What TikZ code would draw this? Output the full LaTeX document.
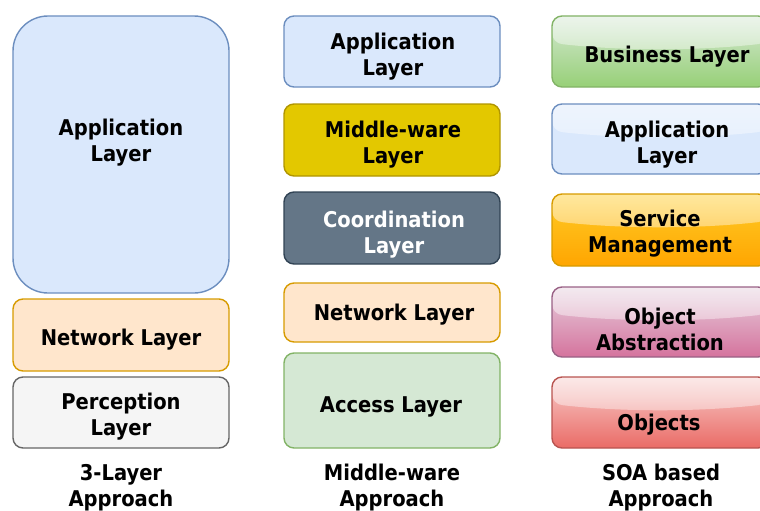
\documentclass[tikz,border=0pt]{standalone}
\usepackage{fontspec}
\setmainfont{DejaVu Sans Condensed}
\usetikzlibrary{fadings}
\newfontfamily\lblfam{DejaVu Sans Condensed}
\newcommand{\lblfont}{\lblfam\bfseries\fontsize{21.7}{26}\selectfont}
\definecolor{blueF}{HTML}{DAE8FC}\definecolor{blueS}{HTML}{6C8EBF}
\definecolor{orgF}{HTML}{FFE6CC}\definecolor{orgS}{HTML}{D79B00}
\definecolor{grayF}{HTML}{F5F5F5}\definecolor{grayS}{HTML}{666666}
\definecolor{yelF}{HTML}{E3C800}\definecolor{yelS}{HTML}{B09500}
\definecolor{slateF}{HTML}{647687}\definecolor{slateS}{HTML}{314354}
\definecolor{grnF}{HTML}{D5E8D4}\definecolor{grnS}{HTML}{82B366}
\definecolor{grnG}{HTML}{97D077}
\definecolor{svcT}{HTML}{FFCD28}\definecolor{svcB}{HTML}{FFA500}
\definecolor{pnkT}{HTML}{E6D0DE}\definecolor{pnkB}{HTML}{D5739D}\definecolor{pnkS}{HTML}{996185}
\definecolor{redT}{HTML}{F8CECC}\definecolor{redB}{HTML}{EA6B66}\definecolor{redS}{HTML}{B85450}
\tikzfading[name=glassfade, top color=transparent!45, bottom color=transparent!78]
\tikzset{
  layerbox/.style={draw, rounded corners=10pt, line width=1.4pt, minimum width=216pt, inner sep=0pt},
  txt/.style={align=center, font=\lblfont, inner sep=0pt},
  glassbox/.style 2 args={layerbox, top color=#1, bottom color=#2,
    path picture={\fill[white, path fading=glassfade]
      (path picture bounding box.north west) -- (path picture bounding box.north east)
      -- ([yshift=-27pt]path picture bounding box.north east)
      .. controls ([xshift=-70pt,yshift=-35pt]path picture bounding box.north east)
      and ([xshift=70pt,yshift=-35pt]path picture bounding box.north west)
      .. ([yshift=-27pt]path picture bounding box.north west) -- cycle;}}
}
\begin{document}
\begin{tikzpicture}[x=1pt,y=-1pt]
\useasboundingbox (0,0) rectangle (760,511);
\clip (0,0) rectangle (760,511);
% column 1
\node[layerbox, rounded corners=35pt, fill=blueF, draw=blueS, minimum height=277pt] (c1app) at (121,154.5) {};
\node[txt] (c1appt) at (121,143) {Application\\Layer};
\node[layerbox, fill=orgF, draw=orgS, minimum height=72pt] (c1net) at (121,335) {};
\node[txt] (c1nett) at (121,340) {Network Layer};
\node[layerbox, fill=grayF, draw=grayS, minimum height=71pt] (c1per) at (121,412.5) {};
\node[txt] (c1pert) at (121,417) {Perception\\Layer};
\node[txt] (c1lbl) at (121,488) {3-Layer\\Approach};
% column 2
\node[layerbox, fill=blueF, draw=blueS, minimum height=71pt] (c2app) at (392,51.5) {};
\node[txt] (c2appt) at (393,57) {Application\\Layer};
\node[layerbox, fill=yelF, draw=yelS, minimum height=72pt] (c2mid) at (392,140) {};
\node[txt] (c2midt) at (393,145) {Middle-ware\\Layer};
\node[layerbox, fill=slateF, draw=slateS, minimum height=72pt] (c2crd) at (392,228) {};
\node[txt, text=white] (c2crdt) at (394,235) {Coordination\\Layer};
\node[layerbox, fill=orgF, draw=orgS, minimum height=59pt] (c2net) at (392,312.5) {};
\node[txt] (c2nett) at (394,315) {Network Layer};
\node[layerbox, fill=grnF, draw=grnS, minimum height=95pt] (c2acc) at (392,400.5) {};
\node[txt] (c2acct) at (391,407) {Access Layer};
\node[txt] (c2lbl) at (392,488) {Middle-ware\\Approach};
% column 3
\node[glassbox={grnF}{grnG}, draw=grnS, minimum height=71pt] (c3bus) at (660,51.5) {};
\node[txt] (c3bust) at (667,57) {Business Layer};
\node[glassbox={blueF}{blueF}, draw=blueS, minimum height=70pt] (c3app) at (660,139) {};
\node[txt] (c3appt) at (667,145) {Application\\Layer};
\node[glassbox={svcT}{svcB}, draw=orgS, minimum height=72pt] (c3svc) at (660,230) {};
\node[txt] (c3svct) at (660,234) {Service\\Management};
\node[glassbox={pnkT}{pnkB}, draw=pnkS, minimum height=70pt] (c3obj) at (660,322) {};
\node[txt] (c3objt) at (660,329) {Object\\Abstraction};
\node[glassbox={redT}{redB}, draw=redS, minimum height=71pt] (c3objs) at (660,412.5) {};
\node[txt] (c3objst) at (659,425) {Objects};
\node[txt] (c3lbl) at (661,488) {SOA based\\Approach};
\end{tikzpicture}
\end{document}
